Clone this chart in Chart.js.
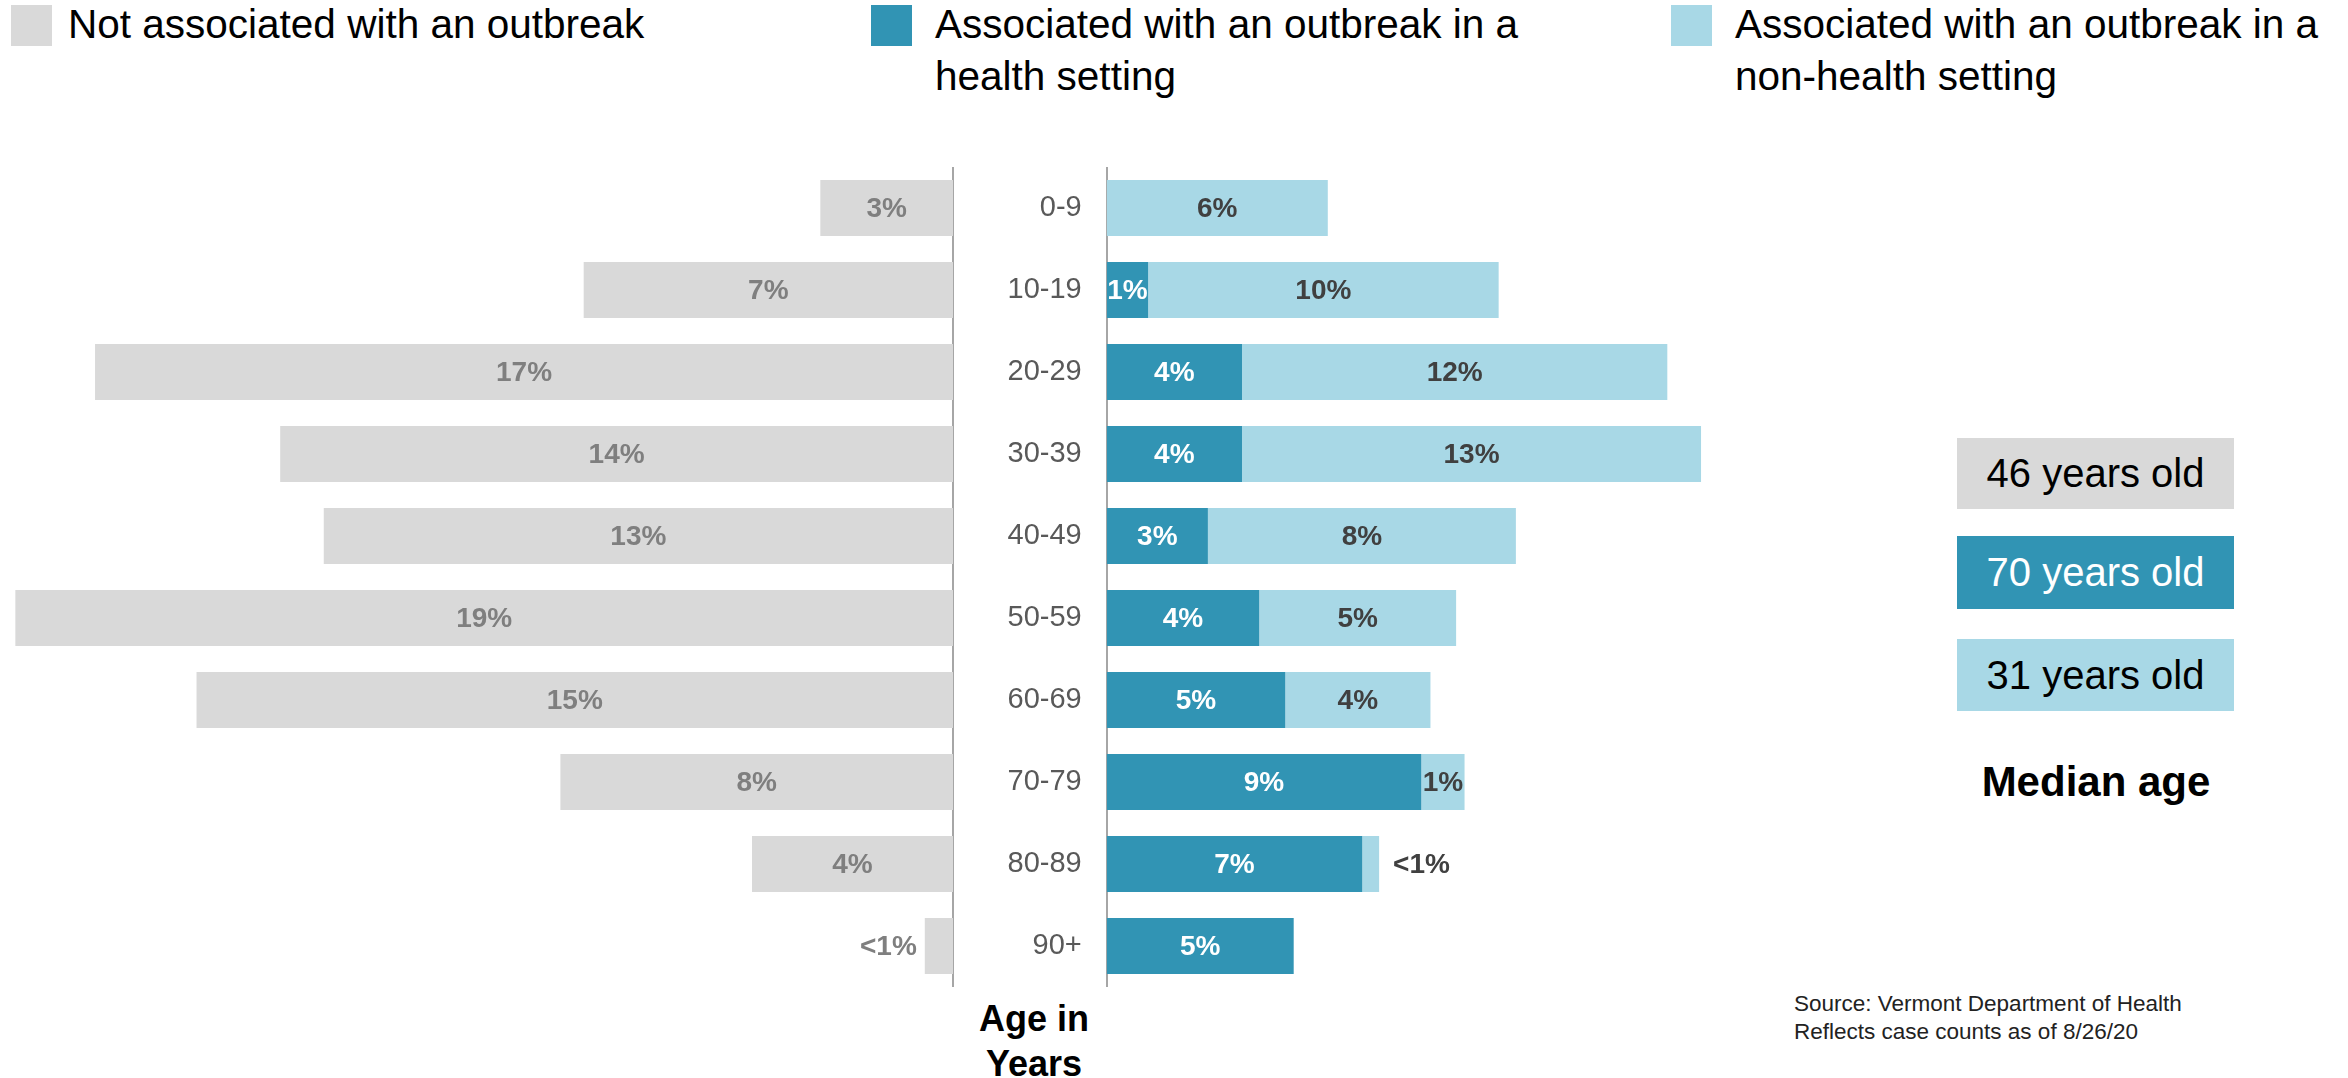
<!DOCTYPE html>
<html>
<head>
<meta charset="utf-8">
<script src="https://cdn.jsdelivr.net/npm/chart.js@4/dist/chart.umd.min.js"></script>
<style>
  html, body { margin: 0; padding: 0; background: #ffffff; }
  #page { position: relative; width: 2348px; height: 1078px; overflow: hidden; font-family: "Liberation Sans", Arial, sans-serif; }
  canvas { position: absolute; }
  .sw { position: absolute; width: 41px; height: 41px; }
  .lg { position: absolute; font-size: 40.5px; line-height: 52px; color: #000; white-space: nowrap; }
  .box { position: absolute; left: 1957px; width: 277px; display: flex; align-items: center; justify-content: center; font-size: 40px; }
  .bold { position: absolute; font-family: "Liberation Sans Narrow", "Liberation Sans", sans-serif; font-weight: bold; color: #000; text-align: center; }
  .src { position: absolute; left: 1794px; top: 990px; font-size: 22.5px; line-height: 28px; color: #222; white-space: nowrap; }
</style>
</head>
<body>
<div id="page">
  <div class="sw" style="left:11px;top:5px;background:#d9d9d9"></div>
  <div class="lg" id="lg0" style="left:68px;top:-2px"></div>
  <div class="sw" style="left:871px;top:5px;background:#3194b4"></div>
  <div class="lg" id="lg1" style="left:935px;top:-2px"></div>
  <div class="sw" style="left:1671px;top:5px;background:#a8d8e6"></div>
  <div class="lg" id="lg2" style="left:1735px;top:-2px"></div>

  <canvas id="leftChart" width="960" height="820" style="left:0px;top:167px"></canvas>
  <canvas id="rightChart" width="880" height="820" style="left:960px;top:167px"></canvas>

  <div class="box" id="m0" style="top:438px;height:71px;background:#d9d9d9;color:#000"></div>
  <div class="box" id="m1" style="top:536px;height:73px;background:#3194b4;color:#fff"></div>
  <div class="box" id="m2" style="top:639px;height:72px;background:#a8d8e6;color:#000"></div>
  <div class="bold" id="medianTitle" style="left:1946px;width:300px;top:759px;font-size:42px;line-height:46px"></div>

  <div class="bold" id="axisTitle" style="left:934px;width:200px;top:996px;font-size:36px;line-height:45px"></div>
  <div class="src" id="source"></div>
</div>

<script>
// ---- Data ----
const categories = ['0-9', '10-19', '20-29', '30-39', '40-49', '50-59', '60-69', '70-79', '80-89', '90+'];
const notOutbreak = [2.68, 7.46, 17.33, 13.59, 12.71, 18.94, 15.28, 7.93, 4.06, 0.57];
const healthSetting = [0, 1.13, 3.69, 3.69, 2.76, 4.16, 4.87, 8.58, 6.97, 5.10];
const nonHealthSetting = [6.03, 9.56, 11.60, 12.52, 8.40, 5.37, 3.96, 1.18, 0.46, 0];
const seriesNames = ['Not associated with an outbreak', 'Associated with an outbreak in a\nhealth setting', 'Associated with an outbreak in a\nnon-health setting'];
const medianAges = ['46 years old', '70 years old', '31 years old'];
const medianTitle = 'Median age';
const axisTitle = 'Age in\nYears';
const sourceLines = ['Source: Vermont Department of Health', 'Reflects case counts as of 8/26/20'];

// ---- Text blocks ----
seriesNames.forEach((n, i) => { document.getElementById('lg' + i).innerText = n; });
medianAges.forEach((t, i) => { document.getElementById('m' + i).textContent = t; });
document.getElementById('medianTitle').textContent = medianTitle;
document.getElementById('axisTitle').innerText = axisTitle;
document.getElementById('source').innerText = sourceLines.join('\n');

const GREY = '#d9d9d9', DARK = '#3194b4', LIGHT = '#a8d8e6';

function fmt(v) {
  if (v <= 0) return '';
  if (v < 1) return '<1%';
  return Math.round(v) + '%';
}

const valueLabels = {
  id: 'valueLabels',
  afterDatasetsDraw(chart, args, opts) {
    const ctx = chart.ctx;
    ctx.save();
    ctx.font = 'bold 28px "Liberation Sans", Arial, sans-serif';
    ctx.textBaseline = 'middle';
    chart.data.datasets.forEach((ds, di) => {
      const meta = chart.getDatasetMeta(di);
      meta.data.forEach((bar, i) => {
        const v = ds.data[i];
        const txt = fmt(v);
        if (!txt) return;
        const p = bar.getProps(['x', 'y', 'base'], true);
        const w = Math.abs(p.x - p.base);
        ctx.fillStyle = opts.colors[di];
        if (w < 35) {
          ctx.fillStyle = opts.outsideColor;
          if (opts.reverse) {
            ctx.textAlign = 'right';
            ctx.fillText(txt, Math.min(p.x, p.base) - 8, p.y + 1);
          } else {
            ctx.textAlign = 'left';
            ctx.fillText(txt, Math.max(p.x, p.base) + 14, p.y + 1);
          }
        } else {
          ctx.textAlign = 'center';
          ctx.fillText(txt, (p.x + p.base) / 2, p.y + 1);
        }
      });
    });
    ctx.restore();
  }
};

Chart.defaults.font.family = '"Liberation Sans", Arial, sans-serif';

new Chart(document.getElementById('leftChart'), {
  type: 'bar',
  data: {
    labels: categories,
    datasets: [{ label: seriesNames[0], data: notOutbreak, backgroundColor: GREY, borderWidth: 0,
                 barPercentage: 0.68, categoryPercentage: 1.0 }]
  },
  options: {
    indexAxis: 'y',
    responsive: false,
    animation: false,
    layout: { padding: { left: 0, right: 7, top: 0, bottom: 0 } },
    plugins: {
      legend: { display: false },
      tooltip: { enabled: false },
      valueLabels: { colors: ['#7f7f7f'], outsideColor: '#7f7f7f', reverse: true }
    },
    scales: {
      x: { reverse: true, min: 0, max: 19.25, display: false },
      y: {
        position: 'right',
        afterFit(scale) { scale.paddingTop = 0; scale.paddingBottom = 0; },
        ticks: { display: false },
        grid: { display: false, drawTicks: false },
        border: { display: true, color: '#a6a6a6', width: 2 }
      }
    }
  },
  plugins: [valueLabels]
});

new Chart(document.getElementById('rightChart'), {
  type: 'bar',
  data: {
    labels: categories,
    datasets: [
      { label: seriesNames[1], data: healthSetting, backgroundColor: DARK, borderWidth: 0,
        barPercentage: 0.68, categoryPercentage: 1.0 },
      { label: seriesNames[2], data: nonHealthSetting, backgroundColor: LIGHT, borderWidth: 0,
        barPercentage: 0.68, categoryPercentage: 1.0 }
    ]
  },
  options: {
    indexAxis: 'y',
    responsive: false,
    animation: false,
    layout: { padding: 0 },
    plugins: {
      legend: { display: false },
      tooltip: { enabled: false },
      valueLabels: { colors: ['#ffffff', '#404040'], outsideColor: '#404040', reverse: false }
    },
    scales: {
      x: { stacked: true, min: 0, max: 20, display: false },
      y: {
        stacked: true,
        position: 'left',
        afterFit(scale) { scale.width = 146.7; scale.paddingTop = 0; scale.paddingBottom = 0; },
        ticks: { color: '#595959', font: { size: 29 }, padding: 25 },
        grid: { display: false, drawTicks: false },
        border: { display: true, color: '#a6a6a6', width: 2 }
      }
    }
  },
  plugins: [valueLabels]
});
</script>
</body>
</html>
